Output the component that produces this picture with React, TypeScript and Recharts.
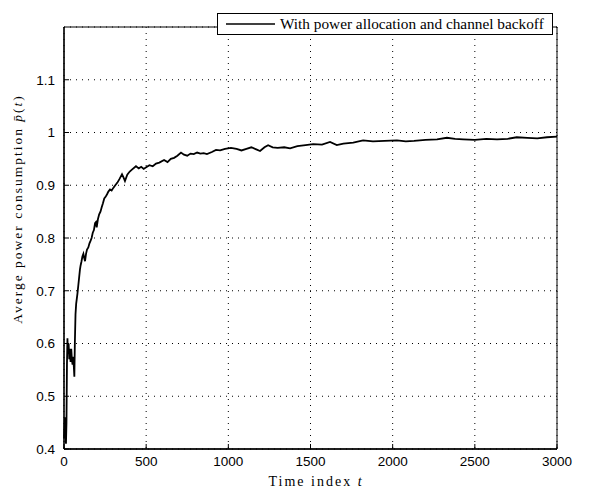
import React from 'react'
import {
  LineChart, Line, XAxis, YAxis, CartesianGrid, ReferenceArea, Legend
} from 'recharts'

// time index t
const steps = [
  0, 3, 6, 9, 12, 15, 18, 21, 24, 28, 32, 36, 40, 44, 48, 52, 56, 60, 63, 66,
  70, 74, 78, 82, 87, 92, 97, 101, 106, 112, 118, 123, 128, 134, 140, 148, 155, 162, 168, 175,
  182, 189, 194, 199, 206, 214, 222, 229, 237, 245, 253, 262, 270, 280, 290, 300, 312, 325, 338, 353,
  362, 371, 385, 400, 415, 438, 455, 470, 485, 500, 520, 540, 560, 580, 609, 630, 650, 670, 690, 712,
  730, 750, 770, 790, 810, 830, 850, 870, 900, 925, 950, 980, 1016, 1050, 1080, 1110, 1140, 1170, 1193, 1220,
  1242, 1270, 1300, 1340, 1376, 1420, 1470, 1516, 1570, 1619, 1660, 1700, 1760, 1820, 1880, 1950, 2026, 2080, 2130, 2200,
  2270, 2330, 2380, 2430, 2500, 2570, 2635, 2700, 2755, 2820, 2880, 2939, 3000,
]

// average power consumption p̄(t)
const power = [
  0.42, 0.44, 0.46, 0.43, 0.41, 0.45, 0.56, 0.61, 0.58, 0.6, 0.57, 0.59, 0.565, 0.59, 0.57, 0.56, 0.575, 0.555, 0.537, 0.6,
  0.655, 0.675, 0.685, 0.695, 0.71, 0.725, 0.74, 0.748, 0.755, 0.765, 0.77, 0.762, 0.756, 0.77, 0.778, 0.782, 0.79, 0.795, 0.8, 0.81,
  0.815, 0.828, 0.83, 0.82, 0.835, 0.845, 0.85, 0.858, 0.866, 0.875, 0.878, 0.883, 0.888, 0.892, 0.89, 0.895, 0.9, 0.905, 0.912, 0.921,
  0.915, 0.908, 0.92, 0.926, 0.93, 0.936, 0.932, 0.935, 0.931, 0.934, 0.938, 0.936, 0.941, 0.943, 0.948, 0.944, 0.95, 0.952, 0.956, 0.962,
  0.958, 0.956, 0.96, 0.959, 0.962, 0.96, 0.961, 0.959, 0.963, 0.967, 0.966, 0.969, 0.971, 0.969, 0.966, 0.969, 0.972, 0.968, 0.965, 0.972,
  0.976, 0.972, 0.971, 0.972, 0.97, 0.974, 0.976, 0.978, 0.977, 0.982, 0.976, 0.979, 0.981, 0.985, 0.983, 0.984, 0.985, 0.983, 0.984, 0.986,
  0.987, 0.99, 0.988, 0.987, 0.986, 0.988, 0.987, 0.988, 0.991, 0.99, 0.989, 0.991, 0.992,
]

const xTicks = [0, 500, 1000, 1500, 2000, 2500, 3000]
const yTicks = [0.4, 0.5, 0.6, 0.7, 0.8, 0.9, 1, 1.1]
const seriesName = 'With power allocation and channel backoff'

const data = steps.map((t, i) => ({ t, p: power[i] }))

const serif = '"Liberation Serif", "DejaVu Serif", serif'
const sans = '"Liberation Sans", Arial, sans-serif'

// tick labels outside, short tick marks pointing into the plot (matlab style)
const XTick = ({ x, y, payload }: any) => (
  <g>
    <line x1={x} x2={x} y1={y - 7} y2={y - 12} stroke="#000" />
    <text x={x} y={y} dy="0.71em" textAnchor="middle" fill="#000" fontSize={13.5} fontFamily={sans}>
      {payload.value}
    </text>
  </g>
)

const YTick = ({ x, y, payload }: any) => (
  <g>
    <line x1={x + 9} x2={x + 14} y1={y} y2={y} stroke="#000" />
    <text x={x} y={y} dy="0.355em" textAnchor="end" fill="#000" fontSize={13.5} fontFamily={sans}>
      {payload.value}
    </text>
  </g>
)

function LegendBox() {
  return (
    <div style={{
      width: 334, height: 20, border: '1px solid #000', background: '#fff',
      display: 'flex', alignItems: 'center', boxSizing: 'content-box', overflow: 'hidden',
    }}>
      <svg width={62} height={20} style={{ flex: 'none' }}>
        <line x1={8} x2={57} y1={10} y2={10} stroke="#000" strokeWidth={1.3} />
      </svg>
      <span style={{ fontFamily: serif, fontSize: 15.3, whiteSpace: 'nowrap', color: '#000' }}>
        {seriesName}
      </span>
    </div>
  )
}

export default function App() {
  return (
    <div style={{ position: 'absolute', left: 0, top: 0, background: '#fff' }}>
      <LineChart width={592} height={493} data={data}
        margin={{ top: 5, right: 35, bottom: 0, left: 0 }}>
        <CartesianGrid stroke="#000" strokeDasharray="1 5" strokeWidth={1} />
        <XAxis dataKey="t" type="number" domain={[0, 3000]} ticks={xTicks}
          height={44} tickLine={false} tickSize={0} tickMargin={7}
          axisLine={{ stroke: '#000', strokeWidth: 1.3 }}
          tick={<XTick />}
          label={{
            content: () => (
              <text x={316} y={486} textAnchor="middle" fontFamily={serif} fontSize={14}
                letterSpacing={2} fill="#000">
                Time index <tspan fontStyle="italic">t</tspan>
              </text>
            ),
          }} />
        <XAxis xAxisId="top" orientation="top" dataKey="t" type="number" domain={[0, 3000]}
          ticks={xTicks} height={0} mirror axisLine={false} tickSize={5}
          tickLine={{ stroke: '#000' }} tick={false} />
        <YAxis type="number" domain={[0.4, 1.2]} ticks={yTicks} allowDataOverflow
          width={64} tickLine={false} tickSize={0} tickMargin={9}
          axisLine={{ stroke: '#000', strokeWidth: 1.3 }}
          tick={<YTick />}
          label={{
            content: () => (
              <text x={0} y={0} transform="translate(22,209) rotate(-90)" textAnchor="middle"
                fontFamily={serif} fontSize={13.5} letterSpacing={2} fill="#000">
                Averge power consumption <tspan fontStyle="italic">p&#772;</tspan>(<tspan fontStyle="italic">t</tspan>)
              </text>
            ),
          }} />
        <YAxis yAxisId="right" orientation="right" type="number" domain={[0.4, 1.2]}
          ticks={yTicks} width={0} mirror axisLine={false} tickSize={5}
          tickLine={{ stroke: '#000' }} tick={false} />
        <ReferenceArea x1={0} x2={3000} y1={0.4} y2={1.2} fill="none" stroke="#000"
          strokeWidth={1} ifOverflow="visible" />
        <Legend verticalAlign="top" align="left" content={() => <LegendBox />}
          wrapperStyle={{ left: 217, top: 13, width: 336 }} />
        <Line type="linear" dataKey="p" name={seriesName} stroke="#000" strokeWidth={1.8}
          dot={false} isAnimationActive={false} />
      </LineChart>
    </div>
  )
}
